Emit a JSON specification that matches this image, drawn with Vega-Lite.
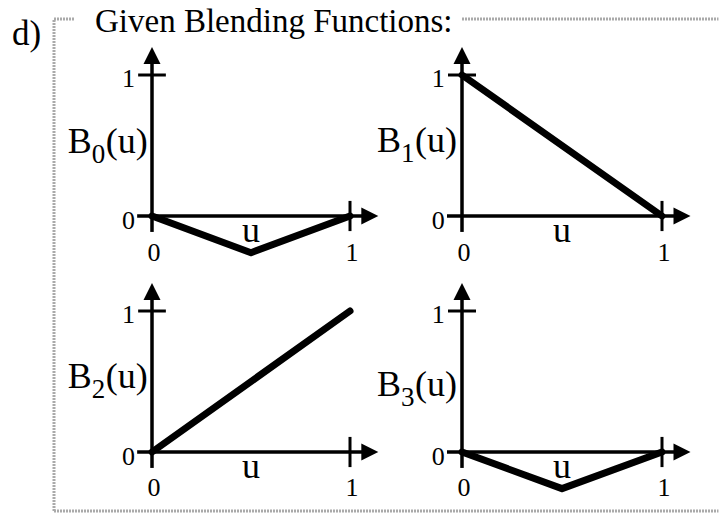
{
  "$schema": "https://vega.github.io/schema/vega-lite/v6.json",
  "width": 721,
  "height": 514,
  "autosize": {"type": "fit", "contains": "padding"},
  "padding": 0,
  "background": "white",
  "config": {"view": {"stroke": null}, "text": {"font": "Liberation Serif", "color": "black"}},
  "datasets": {
    "curves": [
      {"panel": "B0", "u": 0, "B": 0}, {"panel": "B0", "u": 0.5, "B": -0.26}, {"panel": "B0", "u": 1, "B": 0},
      {"panel": "B1", "u": 0, "B": 1}, {"panel": "B1", "u": 1, "B": 0},
      {"panel": "B2", "u": 0, "B": 0}, {"panel": "B2", "u": 1, "B": 1},
      {"panel": "B3", "u": 0, "B": 0}, {"panel": "B3", "u": 0.5, "B": -0.26}, {"panel": "B3", "u": 1, "B": 0}
    ],
    "panels": [
      {"panel": "B0", "name": "B", "sub": "0", "arg": "(u)", "axis": "u"},
      {"panel": "B1", "name": "B", "sub": "1", "arg": "(u)", "axis": "u"},
      {"panel": "B2", "name": "B", "sub": "2", "arg": "(u)", "axis": "u"},
      {"panel": "B3", "name": "B", "sub": "3", "arg": "(u)", "axis": "u"}
    ]
  },
  "layer": [
    {
      "data": {"name": "panels"},
      "transform": [{"filter": "datum.panel === 'B0'"}],
      "layer": [
        {"mark": {"type": "rule", "color": "black", "strokeWidth": 3.5}, "encoding": {"x": {"datum": -0.075, "type": "quantitative", "scale": {"domain": [-0.76768, 2.87374], "nice": false, "zero": false}, "axis": null}, "x2": {"datum": 1.1}, "y": {"datum": 0, "type": "quantitative", "scale": {"domain": [-2.11348, 1.53191], "nice": false, "zero": false}, "axis": null}}},
        {"mark": {"type": "rule", "color": "black", "strokeWidth": 3.5}, "encoding": {"x": {"datum": 0, "type": "quantitative", "scale": {"domain": [-0.76768, 2.87374], "nice": false, "zero": false}, "axis": null}, "y": {"datum": -0.113, "type": "quantitative", "scale": {"domain": [-2.11348, 1.53191], "nice": false, "zero": false}, "axis": null}, "y2": {"datum": 1.138}}},
        {"mark": {"type": "rule", "color": "black", "strokeWidth": 3}, "encoding": {"x": {"datum": 1, "type": "quantitative", "scale": {"domain": [-0.76768, 2.87374], "nice": false, "zero": false}, "axis": null}, "y": {"datum": -0.107, "type": "quantitative", "scale": {"domain": [-2.11348, 1.53191], "nice": false, "zero": false}, "axis": null}, "y2": {"datum": 0.107}}},
        {"mark": {"type": "rule", "color": "black", "strokeWidth": 3}, "encoding": {"x": {"datum": -0.07, "type": "quantitative", "scale": {"domain": [-0.76768, 2.87374], "nice": false, "zero": false}, "axis": null}, "x2": {"datum": 0.07}, "y": {"datum": 1, "type": "quantitative", "scale": {"domain": [-2.11348, 1.53191], "nice": false, "zero": false}, "axis": null}}},
        {"mark": {"type": "point", "shape": "M0,-1L1,1L-1,1Z", "size": 289, "filled": true, "color": "black", "opacity": 1}, "encoding": {"x": {"datum": 0, "type": "quantitative", "scale": {"domain": [-0.76768, 2.87374], "nice": false, "zero": false}, "axis": null}, "y": {"datum": 1.138, "type": "quantitative", "scale": {"domain": [-2.11348, 1.53191], "nice": false, "zero": false}, "axis": null}}},
        {"mark": {"type": "point", "shape": "M1,0L-1,-1L-1,1Z", "size": 289, "filled": true, "color": "black", "opacity": 1}, "encoding": {"x": {"datum": 1.1, "type": "quantitative", "scale": {"domain": [-0.76768, 2.87374], "nice": false, "zero": false}, "axis": null}, "y": {"datum": 0, "type": "quantitative", "scale": {"domain": [-2.11348, 1.53191], "nice": false, "zero": false}, "axis": null}}},
        {"data": {"name": "curves"}, "transform": [{"filter": "datum.panel === 'B0'"}], "mark": {"type": "line", "color": "black", "strokeWidth": 7, "strokeCap": "round", "strokeJoin": "round"}, "encoding": {"x": {"field": "u", "type": "quantitative", "scale": {"domain": [-0.76768, 2.87374], "nice": false, "zero": false}, "axis": null}, "y": {"field": "B", "type": "quantitative", "scale": {"domain": [-2.11348, 1.53191], "nice": false, "zero": false}, "axis": null}}},
        {"mark": {"type": "text", "align": "left", "baseline": "alphabetic", "fontSize": 36}, "encoding": {"x": {"datum": -0.425, "type": "quantitative", "scale": {"domain": [-0.76768, 2.87374], "nice": false, "zero": false}, "axis": null}, "y": {"datum": 0.447, "type": "quantitative", "scale": {"domain": [-2.11348, 1.53191], "nice": false, "zero": false}, "axis": null}, "text": {"field": "name"}}},
        {"mark": {"type": "text", "align": "left", "baseline": "alphabetic", "fontSize": 27, "dx": 24, "dy": 10}, "encoding": {"x": {"datum": -0.425, "type": "quantitative", "scale": {"domain": [-0.76768, 2.87374], "nice": false, "zero": false}, "axis": null}, "y": {"datum": 0.447, "type": "quantitative", "scale": {"domain": [-2.11348, 1.53191], "nice": false, "zero": false}, "axis": null}, "text": {"field": "sub"}}},
        {"mark": {"type": "text", "align": "left", "baseline": "alphabetic", "fontSize": 36, "dx": 38}, "encoding": {"x": {"datum": -0.425, "type": "quantitative", "scale": {"domain": [-0.76768, 2.87374], "nice": false, "zero": false}, "axis": null}, "y": {"datum": 0.447, "type": "quantitative", "scale": {"domain": [-2.11348, 1.53191], "nice": false, "zero": false}, "axis": null}, "text": {"field": "arg"}}},
        {"mark": {"type": "text", "align": "center", "baseline": "alphabetic", "fontSize": 36}, "encoding": {"x": {"datum": 0.5, "type": "quantitative", "scale": {"domain": [-0.76768, 2.87374], "nice": false, "zero": false}, "axis": null}, "y": {"datum": -0.184, "type": "quantitative", "scale": {"domain": [-2.11348, 1.53191], "nice": false, "zero": false}, "axis": null}, "text": {"field": "axis"}}},
        {"mark": {"type": "text", "align": "right", "baseline": "alphabetic", "fontSize": 26, "text": "1"}, "encoding": {"x": {"datum": -0.086, "type": "quantitative", "scale": {"domain": [-0.76768, 2.87374], "nice": false, "zero": false}, "axis": null}, "y": {"datum": 0.912, "type": "quantitative", "scale": {"domain": [-2.11348, 1.53191], "nice": false, "zero": false}, "axis": null}}},
        {"mark": {"type": "text", "align": "right", "baseline": "alphabetic", "fontSize": 26, "text": "0"}, "encoding": {"x": {"datum": -0.086, "type": "quantitative", "scale": {"domain": [-0.76768, 2.87374], "nice": false, "zero": false}, "axis": null}, "y": {"datum": -0.095, "type": "quantitative", "scale": {"domain": [-2.11348, 1.53191], "nice": false, "zero": false}, "axis": null}}},
        {"mark": {"type": "text", "align": "center", "baseline": "alphabetic", "fontSize": 26, "text": "0"}, "encoding": {"x": {"datum": 0.01, "type": "quantitative", "scale": {"domain": [-0.76768, 2.87374], "nice": false, "zero": false}, "axis": null}, "y": {"datum": -0.322, "type": "quantitative", "scale": {"domain": [-2.11348, 1.53191], "nice": false, "zero": false}, "axis": null}}},
        {"mark": {"type": "text", "align": "center", "baseline": "alphabetic", "fontSize": 26, "text": "1"}, "encoding": {"x": {"datum": 1.01, "type": "quantitative", "scale": {"domain": [-0.76768, 2.87374], "nice": false, "zero": false}, "axis": null}, "y": {"datum": -0.322, "type": "quantitative", "scale": {"domain": [-2.11348, 1.53191], "nice": false, "zero": false}, "axis": null}}}
      ]
    },
    {
      "data": {"name": "panels"},
      "transform": [{"filter": "datum.panel === 'B1'"}],
      "layer": [
        {"mark": {"type": "rule", "color": "black", "strokeWidth": 3.5}, "encoding": {"x": {"datum": -0.075, "type": "quantitative", "scale": {"domain": [-2.31, 1.295], "nice": false, "zero": false}, "axis": null}, "x2": {"datum": 1.1}, "y": {"datum": 0, "type": "quantitative", "scale": {"domain": [-2.11348, 1.53191], "nice": false, "zero": false}, "axis": null}}},
        {"mark": {"type": "rule", "color": "black", "strokeWidth": 3.5}, "encoding": {"x": {"datum": 0, "type": "quantitative", "scale": {"domain": [-2.31, 1.295], "nice": false, "zero": false}, "axis": null}, "y": {"datum": -0.113, "type": "quantitative", "scale": {"domain": [-2.11348, 1.53191], "nice": false, "zero": false}, "axis": null}, "y2": {"datum": 1.138}}},
        {"mark": {"type": "rule", "color": "black", "strokeWidth": 3}, "encoding": {"x": {"datum": 1, "type": "quantitative", "scale": {"domain": [-2.31, 1.295], "nice": false, "zero": false}, "axis": null}, "y": {"datum": -0.107, "type": "quantitative", "scale": {"domain": [-2.11348, 1.53191], "nice": false, "zero": false}, "axis": null}, "y2": {"datum": 0.107}}},
        {"mark": {"type": "rule", "color": "black", "strokeWidth": 3}, "encoding": {"x": {"datum": -0.07, "type": "quantitative", "scale": {"domain": [-2.31, 1.295], "nice": false, "zero": false}, "axis": null}, "x2": {"datum": 0.07}, "y": {"datum": 1, "type": "quantitative", "scale": {"domain": [-2.11348, 1.53191], "nice": false, "zero": false}, "axis": null}}},
        {"mark": {"type": "point", "shape": "M0,-1L1,1L-1,1Z", "size": 289, "filled": true, "color": "black", "opacity": 1}, "encoding": {"x": {"datum": 0, "type": "quantitative", "scale": {"domain": [-2.31, 1.295], "nice": false, "zero": false}, "axis": null}, "y": {"datum": 1.138, "type": "quantitative", "scale": {"domain": [-2.11348, 1.53191], "nice": false, "zero": false}, "axis": null}}},
        {"mark": {"type": "point", "shape": "M1,0L-1,-1L-1,1Z", "size": 289, "filled": true, "color": "black", "opacity": 1}, "encoding": {"x": {"datum": 1.1, "type": "quantitative", "scale": {"domain": [-2.31, 1.295], "nice": false, "zero": false}, "axis": null}, "y": {"datum": 0, "type": "quantitative", "scale": {"domain": [-2.11348, 1.53191], "nice": false, "zero": false}, "axis": null}}},
        {"data": {"name": "curves"}, "transform": [{"filter": "datum.panel === 'B1'"}], "mark": {"type": "line", "color": "black", "strokeWidth": 7, "strokeCap": "round", "strokeJoin": "round"}, "encoding": {"x": {"field": "u", "type": "quantitative", "scale": {"domain": [-2.31, 1.295], "nice": false, "zero": false}, "axis": null}, "y": {"field": "B", "type": "quantitative", "scale": {"domain": [-2.11348, 1.53191], "nice": false, "zero": false}, "axis": null}}},
        {"mark": {"type": "text", "align": "left", "baseline": "alphabetic", "fontSize": 36}, "encoding": {"x": {"datum": -0.425, "type": "quantitative", "scale": {"domain": [-2.31, 1.295], "nice": false, "zero": false}, "axis": null}, "y": {"datum": 0.455, "type": "quantitative", "scale": {"domain": [-2.11348, 1.53191], "nice": false, "zero": false}, "axis": null}, "text": {"field": "name"}}},
        {"mark": {"type": "text", "align": "left", "baseline": "alphabetic", "fontSize": 27, "dx": 24, "dy": 10}, "encoding": {"x": {"datum": -0.425, "type": "quantitative", "scale": {"domain": [-2.31, 1.295], "nice": false, "zero": false}, "axis": null}, "y": {"datum": 0.455, "type": "quantitative", "scale": {"domain": [-2.11348, 1.53191], "nice": false, "zero": false}, "axis": null}, "text": {"field": "sub"}}},
        {"mark": {"type": "text", "align": "left", "baseline": "alphabetic", "fontSize": 36, "dx": 38}, "encoding": {"x": {"datum": -0.425, "type": "quantitative", "scale": {"domain": [-2.31, 1.295], "nice": false, "zero": false}, "axis": null}, "y": {"datum": 0.455, "type": "quantitative", "scale": {"domain": [-2.11348, 1.53191], "nice": false, "zero": false}, "axis": null}, "text": {"field": "arg"}}},
        {"mark": {"type": "text", "align": "center", "baseline": "alphabetic", "fontSize": 36}, "encoding": {"x": {"datum": 0.5, "type": "quantitative", "scale": {"domain": [-2.31, 1.295], "nice": false, "zero": false}, "axis": null}, "y": {"datum": -0.184, "type": "quantitative", "scale": {"domain": [-2.11348, 1.53191], "nice": false, "zero": false}, "axis": null}, "text": {"field": "axis"}}},
        {"mark": {"type": "text", "align": "right", "baseline": "alphabetic", "fontSize": 26, "text": "1"}, "encoding": {"x": {"datum": -0.086, "type": "quantitative", "scale": {"domain": [-2.31, 1.295], "nice": false, "zero": false}, "axis": null}, "y": {"datum": 0.912, "type": "quantitative", "scale": {"domain": [-2.11348, 1.53191], "nice": false, "zero": false}, "axis": null}}},
        {"mark": {"type": "text", "align": "right", "baseline": "alphabetic", "fontSize": 26, "text": "0"}, "encoding": {"x": {"datum": -0.086, "type": "quantitative", "scale": {"domain": [-2.31, 1.295], "nice": false, "zero": false}, "axis": null}, "y": {"datum": -0.095, "type": "quantitative", "scale": {"domain": [-2.11348, 1.53191], "nice": false, "zero": false}, "axis": null}}},
        {"mark": {"type": "text", "align": "center", "baseline": "alphabetic", "fontSize": 26, "text": "0"}, "encoding": {"x": {"datum": 0.01, "type": "quantitative", "scale": {"domain": [-2.31, 1.295], "nice": false, "zero": false}, "axis": null}, "y": {"datum": -0.322, "type": "quantitative", "scale": {"domain": [-2.11348, 1.53191], "nice": false, "zero": false}, "axis": null}}},
        {"mark": {"type": "text", "align": "center", "baseline": "alphabetic", "fontSize": 26, "text": "1"}, "encoding": {"x": {"datum": 1.01, "type": "quantitative", "scale": {"domain": [-2.31, 1.295], "nice": false, "zero": false}, "axis": null}, "y": {"datum": -0.322, "type": "quantitative", "scale": {"domain": [-2.11348, 1.53191], "nice": false, "zero": false}, "axis": null}}}
      ]
    },
    {
      "data": {"name": "panels"},
      "transform": [{"filter": "datum.panel === 'B2'"}],
      "layer": [
        {"mark": {"type": "rule", "color": "black", "strokeWidth": 3.5}, "encoding": {"x": {"datum": -0.075, "type": "quantitative", "scale": {"domain": [-0.76768, 2.87374], "nice": false, "zero": false}, "axis": null}, "x2": {"datum": 1.1}, "y": {"datum": 0, "type": "quantitative", "scale": {"domain": [-0.43972, 3.20567], "nice": false, "zero": false}, "axis": null}}},
        {"mark": {"type": "rule", "color": "black", "strokeWidth": 3.5}, "encoding": {"x": {"datum": 0, "type": "quantitative", "scale": {"domain": [-0.76768, 2.87374], "nice": false, "zero": false}, "axis": null}, "y": {"datum": -0.113, "type": "quantitative", "scale": {"domain": [-0.43972, 3.20567], "nice": false, "zero": false}, "axis": null}, "y2": {"datum": 1.138}}},
        {"mark": {"type": "rule", "color": "black", "strokeWidth": 3}, "encoding": {"x": {"datum": 1, "type": "quantitative", "scale": {"domain": [-0.76768, 2.87374], "nice": false, "zero": false}, "axis": null}, "y": {"datum": -0.107, "type": "quantitative", "scale": {"domain": [-0.43972, 3.20567], "nice": false, "zero": false}, "axis": null}, "y2": {"datum": 0.107}}},
        {"mark": {"type": "rule", "color": "black", "strokeWidth": 3}, "encoding": {"x": {"datum": -0.07, "type": "quantitative", "scale": {"domain": [-0.76768, 2.87374], "nice": false, "zero": false}, "axis": null}, "x2": {"datum": 0.07}, "y": {"datum": 1, "type": "quantitative", "scale": {"domain": [-0.43972, 3.20567], "nice": false, "zero": false}, "axis": null}}},
        {"mark": {"type": "point", "shape": "M0,-1L1,1L-1,1Z", "size": 289, "filled": true, "color": "black", "opacity": 1}, "encoding": {"x": {"datum": 0, "type": "quantitative", "scale": {"domain": [-0.76768, 2.87374], "nice": false, "zero": false}, "axis": null}, "y": {"datum": 1.138, "type": "quantitative", "scale": {"domain": [-0.43972, 3.20567], "nice": false, "zero": false}, "axis": null}}},
        {"mark": {"type": "point", "shape": "M1,0L-1,-1L-1,1Z", "size": 289, "filled": true, "color": "black", "opacity": 1}, "encoding": {"x": {"datum": 1.1, "type": "quantitative", "scale": {"domain": [-0.76768, 2.87374], "nice": false, "zero": false}, "axis": null}, "y": {"datum": 0, "type": "quantitative", "scale": {"domain": [-0.43972, 3.20567], "nice": false, "zero": false}, "axis": null}}},
        {"data": {"name": "curves"}, "transform": [{"filter": "datum.panel === 'B2'"}], "mark": {"type": "line", "color": "black", "strokeWidth": 7, "strokeCap": "round", "strokeJoin": "round"}, "encoding": {"x": {"field": "u", "type": "quantitative", "scale": {"domain": [-0.76768, 2.87374], "nice": false, "zero": false}, "axis": null}, "y": {"field": "B", "type": "quantitative", "scale": {"domain": [-0.43972, 3.20567], "nice": false, "zero": false}, "axis": null}}},
        {"mark": {"type": "text", "align": "left", "baseline": "alphabetic", "fontSize": 36}, "encoding": {"x": {"datum": -0.425, "type": "quantitative", "scale": {"domain": [-0.76768, 2.87374], "nice": false, "zero": false}, "axis": null}, "y": {"datum": 0.454, "type": "quantitative", "scale": {"domain": [-0.43972, 3.20567], "nice": false, "zero": false}, "axis": null}, "text": {"field": "name"}}},
        {"mark": {"type": "text", "align": "left", "baseline": "alphabetic", "fontSize": 27, "dx": 24, "dy": 10}, "encoding": {"x": {"datum": -0.425, "type": "quantitative", "scale": {"domain": [-0.76768, 2.87374], "nice": false, "zero": false}, "axis": null}, "y": {"datum": 0.454, "type": "quantitative", "scale": {"domain": [-0.43972, 3.20567], "nice": false, "zero": false}, "axis": null}, "text": {"field": "sub"}}},
        {"mark": {"type": "text", "align": "left", "baseline": "alphabetic", "fontSize": 36, "dx": 38}, "encoding": {"x": {"datum": -0.425, "type": "quantitative", "scale": {"domain": [-0.76768, 2.87374], "nice": false, "zero": false}, "axis": null}, "y": {"datum": 0.454, "type": "quantitative", "scale": {"domain": [-0.43972, 3.20567], "nice": false, "zero": false}, "axis": null}, "text": {"field": "arg"}}},
        {"mark": {"type": "text", "align": "center", "baseline": "alphabetic", "fontSize": 36}, "encoding": {"x": {"datum": 0.5, "type": "quantitative", "scale": {"domain": [-0.76768, 2.87374], "nice": false, "zero": false}, "axis": null}, "y": {"datum": -0.184, "type": "quantitative", "scale": {"domain": [-0.43972, 3.20567], "nice": false, "zero": false}, "axis": null}, "text": {"field": "axis"}}},
        {"mark": {"type": "text", "align": "right", "baseline": "alphabetic", "fontSize": 26, "text": "1"}, "encoding": {"x": {"datum": -0.086, "type": "quantitative", "scale": {"domain": [-0.76768, 2.87374], "nice": false, "zero": false}, "axis": null}, "y": {"datum": 0.912, "type": "quantitative", "scale": {"domain": [-0.43972, 3.20567], "nice": false, "zero": false}, "axis": null}}},
        {"mark": {"type": "text", "align": "right", "baseline": "alphabetic", "fontSize": 26, "text": "0"}, "encoding": {"x": {"datum": -0.086, "type": "quantitative", "scale": {"domain": [-0.76768, 2.87374], "nice": false, "zero": false}, "axis": null}, "y": {"datum": -0.095, "type": "quantitative", "scale": {"domain": [-0.43972, 3.20567], "nice": false, "zero": false}, "axis": null}}},
        {"mark": {"type": "text", "align": "center", "baseline": "alphabetic", "fontSize": 26, "text": "0"}, "encoding": {"x": {"datum": 0.01, "type": "quantitative", "scale": {"domain": [-0.76768, 2.87374], "nice": false, "zero": false}, "axis": null}, "y": {"datum": -0.312, "type": "quantitative", "scale": {"domain": [-0.43972, 3.20567], "nice": false, "zero": false}, "axis": null}}},
        {"mark": {"type": "text", "align": "center", "baseline": "alphabetic", "fontSize": 26, "text": "1"}, "encoding": {"x": {"datum": 1.01, "type": "quantitative", "scale": {"domain": [-0.76768, 2.87374], "nice": false, "zero": false}, "axis": null}, "y": {"datum": -0.312, "type": "quantitative", "scale": {"domain": [-0.43972, 3.20567], "nice": false, "zero": false}, "axis": null}}}
      ]
    },
    {
      "data": {"name": "panels"},
      "transform": [{"filter": "datum.panel === 'B3'"}],
      "layer": [
        {"mark": {"type": "rule", "color": "black", "strokeWidth": 3.5}, "encoding": {"x": {"datum": -0.075, "type": "quantitative", "scale": {"domain": [-2.31, 1.295], "nice": false, "zero": false}, "axis": null}, "x2": {"datum": 1.1}, "y": {"datum": 0, "type": "quantitative", "scale": {"domain": [-0.43972, 3.20567], "nice": false, "zero": false}, "axis": null}}},
        {"mark": {"type": "rule", "color": "black", "strokeWidth": 3.5}, "encoding": {"x": {"datum": 0, "type": "quantitative", "scale": {"domain": [-2.31, 1.295], "nice": false, "zero": false}, "axis": null}, "y": {"datum": -0.113, "type": "quantitative", "scale": {"domain": [-0.43972, 3.20567], "nice": false, "zero": false}, "axis": null}, "y2": {"datum": 1.138}}},
        {"mark": {"type": "rule", "color": "black", "strokeWidth": 3}, "encoding": {"x": {"datum": 1, "type": "quantitative", "scale": {"domain": [-2.31, 1.295], "nice": false, "zero": false}, "axis": null}, "y": {"datum": -0.107, "type": "quantitative", "scale": {"domain": [-0.43972, 3.20567], "nice": false, "zero": false}, "axis": null}, "y2": {"datum": 0.107}}},
        {"mark": {"type": "rule", "color": "black", "strokeWidth": 3}, "encoding": {"x": {"datum": -0.07, "type": "quantitative", "scale": {"domain": [-2.31, 1.295], "nice": false, "zero": false}, "axis": null}, "x2": {"datum": 0.07}, "y": {"datum": 1, "type": "quantitative", "scale": {"domain": [-0.43972, 3.20567], "nice": false, "zero": false}, "axis": null}}},
        {"mark": {"type": "point", "shape": "M0,-1L1,1L-1,1Z", "size": 289, "filled": true, "color": "black", "opacity": 1}, "encoding": {"x": {"datum": 0, "type": "quantitative", "scale": {"domain": [-2.31, 1.295], "nice": false, "zero": false}, "axis": null}, "y": {"datum": 1.138, "type": "quantitative", "scale": {"domain": [-0.43972, 3.20567], "nice": false, "zero": false}, "axis": null}}},
        {"mark": {"type": "point", "shape": "M1,0L-1,-1L-1,1Z", "size": 289, "filled": true, "color": "black", "opacity": 1}, "encoding": {"x": {"datum": 1.1, "type": "quantitative", "scale": {"domain": [-2.31, 1.295], "nice": false, "zero": false}, "axis": null}, "y": {"datum": 0, "type": "quantitative", "scale": {"domain": [-0.43972, 3.20567], "nice": false, "zero": false}, "axis": null}}},
        {"data": {"name": "curves"}, "transform": [{"filter": "datum.panel === 'B3'"}], "mark": {"type": "line", "color": "black", "strokeWidth": 7, "strokeCap": "round", "strokeJoin": "round"}, "encoding": {"x": {"field": "u", "type": "quantitative", "scale": {"domain": [-2.31, 1.295], "nice": false, "zero": false}, "axis": null}, "y": {"field": "B", "type": "quantitative", "scale": {"domain": [-0.43972, 3.20567], "nice": false, "zero": false}, "axis": null}}},
        {"mark": {"type": "text", "align": "left", "baseline": "alphabetic", "fontSize": 36}, "encoding": {"x": {"datum": -0.425, "type": "quantitative", "scale": {"domain": [-2.31, 1.295], "nice": false, "zero": false}, "axis": null}, "y": {"datum": 0.40, "type": "quantitative", "scale": {"domain": [-0.43972, 3.20567], "nice": false, "zero": false}, "axis": null}, "text": {"field": "name"}}},
        {"mark": {"type": "text", "align": "left", "baseline": "alphabetic", "fontSize": 27, "dx": 24, "dy": 10}, "encoding": {"x": {"datum": -0.425, "type": "quantitative", "scale": {"domain": [-2.31, 1.295], "nice": false, "zero": false}, "axis": null}, "y": {"datum": 0.40, "type": "quantitative", "scale": {"domain": [-0.43972, 3.20567], "nice": false, "zero": false}, "axis": null}, "text": {"field": "sub"}}},
        {"mark": {"type": "text", "align": "left", "baseline": "alphabetic", "fontSize": 36, "dx": 38}, "encoding": {"x": {"datum": -0.425, "type": "quantitative", "scale": {"domain": [-2.31, 1.295], "nice": false, "zero": false}, "axis": null}, "y": {"datum": 0.40, "type": "quantitative", "scale": {"domain": [-0.43972, 3.20567], "nice": false, "zero": false}, "axis": null}, "text": {"field": "arg"}}},
        {"mark": {"type": "text", "align": "center", "baseline": "alphabetic", "fontSize": 36}, "encoding": {"x": {"datum": 0.5, "type": "quantitative", "scale": {"domain": [-2.31, 1.295], "nice": false, "zero": false}, "axis": null}, "y": {"datum": -0.184, "type": "quantitative", "scale": {"domain": [-0.43972, 3.20567], "nice": false, "zero": false}, "axis": null}, "text": {"field": "axis"}}},
        {"mark": {"type": "text", "align": "right", "baseline": "alphabetic", "fontSize": 26, "text": "1"}, "encoding": {"x": {"datum": -0.086, "type": "quantitative", "scale": {"domain": [-2.31, 1.295], "nice": false, "zero": false}, "axis": null}, "y": {"datum": 0.912, "type": "quantitative", "scale": {"domain": [-0.43972, 3.20567], "nice": false, "zero": false}, "axis": null}}},
        {"mark": {"type": "text", "align": "right", "baseline": "alphabetic", "fontSize": 26, "text": "0"}, "encoding": {"x": {"datum": -0.086, "type": "quantitative", "scale": {"domain": [-2.31, 1.295], "nice": false, "zero": false}, "axis": null}, "y": {"datum": -0.095, "type": "quantitative", "scale": {"domain": [-0.43972, 3.20567], "nice": false, "zero": false}, "axis": null}}},
        {"mark": {"type": "text", "align": "center", "baseline": "alphabetic", "fontSize": 26, "text": "0"}, "encoding": {"x": {"datum": 0.01, "type": "quantitative", "scale": {"domain": [-2.31, 1.295], "nice": false, "zero": false}, "axis": null}, "y": {"datum": -0.312, "type": "quantitative", "scale": {"domain": [-0.43972, 3.20567], "nice": false, "zero": false}, "axis": null}}},
        {"mark": {"type": "text", "align": "center", "baseline": "alphabetic", "fontSize": 26, "text": "1"}, "encoding": {"x": {"datum": 1.01, "type": "quantitative", "scale": {"domain": [-2.31, 1.295], "nice": false, "zero": false}, "axis": null}, "y": {"datum": -0.312, "type": "quantitative", "scale": {"domain": [-0.43972, 3.20567], "nice": false, "zero": false}, "axis": null}}}
      ]
    },
    {
      "data": {"values": [{"item": "d)", "heading": "Given Blending Functions:"}]},
      "layer": [
        {"mark": {"type": "rule", "color": "#aaaaaa", "strokeWidth": 3, "strokeDash": [2, 1]}, "encoding": {"x": {"datum": 0.0749, "type": "quantitative", "scale": {"domain": [0, 1], "nice": false, "zero": false}, "axis": null}, "y": {"datum": 0.00584, "type": "quantitative", "scale": {"domain": [0, 1], "nice": false, "zero": false}, "axis": null}, "y2": {"datum": 0.96304}}},
        {"mark": {"type": "rule", "color": "#aaaaaa", "strokeWidth": 3, "strokeDash": [2, 1]}, "encoding": {"x": {"datum": 0.0749, "type": "quantitative", "scale": {"domain": [0, 1], "nice": false, "zero": false}, "axis": null}, "x2": {"datum": 0.9965}, "y": {"datum": 0.00584, "type": "quantitative", "scale": {"domain": [0, 1], "nice": false, "zero": false}, "axis": null}}},
        {"mark": {"type": "rule", "color": "#aaaaaa", "strokeWidth": 3, "strokeDash": [2, 1]}, "encoding": {"x": {"datum": 0.0749, "type": "quantitative", "scale": {"domain": [0, 1], "nice": false, "zero": false}, "axis": null}, "x2": {"datum": 0.104}, "y": {"datum": 0.96304, "type": "quantitative", "scale": {"domain": [0, 1], "nice": false, "zero": false}, "axis": null}}},
        {"mark": {"type": "rule", "color": "#aaaaaa", "strokeWidth": 3, "strokeDash": [2, 1]}, "encoding": {"x": {"datum": 0.6408, "type": "quantitative", "scale": {"domain": [0, 1], "nice": false, "zero": false}, "axis": null}, "x2": {"datum": 0.9965}, "y": {"datum": 0.96304, "type": "quantitative", "scale": {"domain": [0, 1], "nice": false, "zero": false}, "axis": null}}},
        {"mark": {"type": "text", "align": "left", "baseline": "alphabetic", "fontSize": 35}, "encoding": {"x": {"datum": 0.0166, "type": "quantitative", "scale": {"domain": [0, 1], "nice": false, "zero": false}, "axis": null}, "y": {"datum": 0.9125, "type": "quantitative", "scale": {"domain": [0, 1], "nice": false, "zero": false}, "axis": null}, "text": {"field": "item"}}},
        {"mark": {"type": "text", "align": "left", "baseline": "alphabetic", "fontSize": 33}, "encoding": {"x": {"datum": 0.1318, "type": "quantitative", "scale": {"domain": [0, 1], "nice": false, "zero": false}, "axis": null}, "y": {"datum": 0.9377, "type": "quantitative", "scale": {"domain": [0, 1], "nice": false, "zero": false}, "axis": null}, "text": {"field": "heading"}}}
      ]
    }
  ],
  "resolve": {"scale": {"x": "independent", "y": "independent"}}
}
